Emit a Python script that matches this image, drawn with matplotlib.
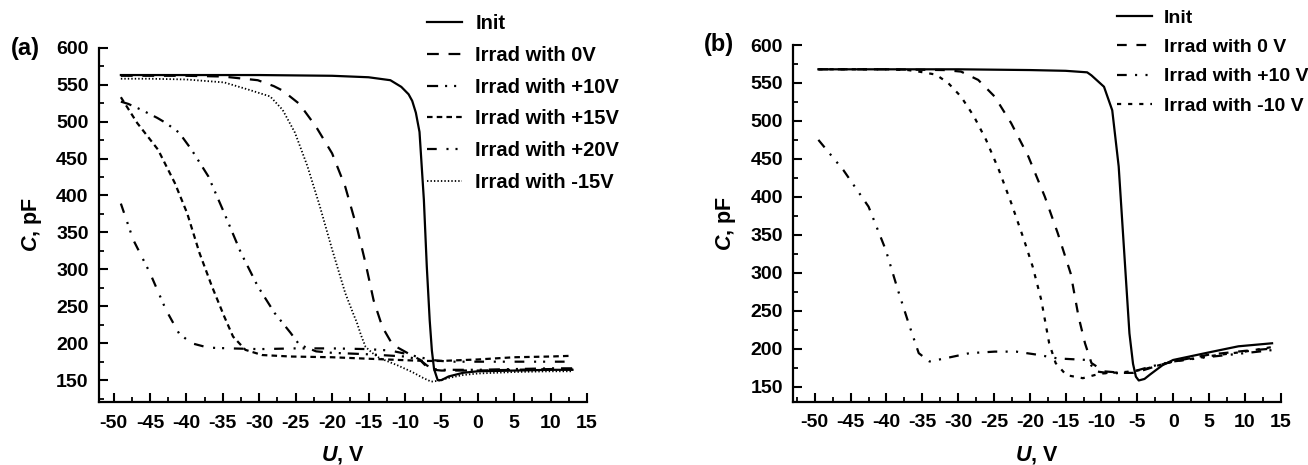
import matplotlib
matplotlib.use("Agg")
import matplotlib.pyplot as plt
from matplotlib.ticker import MultipleLocator

plt.rcParams['font.family'] = ['Liberation Sans', 'DejaVu Sans']
plt.rcParams['font.weight'] = 'bold'
plt.rcParams['mathtext.fontset'] = 'custom'
plt.rcParams['mathtext.bfit'] = 'Liberation Sans:italic:bold'
plt.rcParams['mathtext.rm'] = 'Liberation Sans:bold'
plt.rcParams['lines.scale_dashes'] = False
plt.rcParams['axes.unicode_minus'] = False

# ---- panel (a) data ----
a_init_x = [-49, -40, -30, -20, -15, -12, -10.5, -9.5, -9, -8.5, -8, -7.4, -7, -6.6, -6.3, -6, -5.5, -5, -4, -2, 0, 5, 10, 13]
a_init_y = [563, 563, 563, 562, 560, 556, 547, 537, 528, 512, 486, 394, 304, 231, 190, 165, 150, 150, 155, 160, 162, 163, 164, 164]

a_0v_x = [-49, -40, -35, -30.2, -28, -26.8, -24.5, -22.2, -20, -18.2, -16.5, -15.4, -14.3, -13.1, -11.7, -9.7, -8, -6.8, -6, -5, -3, 0, 5, 10, 13]
a_0v_y = [562, 562, 561, 556, 548, 542, 524, 493, 457, 412, 353, 308, 258, 222, 198, 187, 178, 166, 164, 163, 163, 163, 164, 165, 165]

a_p10_x = [-49, -48, -46.2, -44, -42.8, -41, -39.3, -37, -34.8, -32.5, -30.2, -27.9, -25.7, -24.5, -22.2, -20, -15, -10, -8, -7, -6, -5, 0, 5, 10, 13]
a_p10_y = [527, 524, 516, 505, 498, 485, 462, 426, 376, 322, 277, 241, 214, 198, 189, 187, 185, 182, 178, 170, 165, 164, 164, 165, 166, 166]

a_p15_x = [-49, -46.75, -43.9, -41.6, -39.9, -38.2, -36.5, -34.8, -33.6, -31.9, -29.6, -25.7, -20, -15, -10, -7, -5, 0, 5, 10, 13]
a_p15_y = [533, 498, 462, 417, 376, 322, 277, 236, 209, 191, 184, 182, 181, 179, 177, 176, 176, 178, 181, 182, 183]

a_p20_x = [-49, -47.3, -45, -42.8, -41, -39.3, -37, -34, -30, -25, -20, -15, -12, -10, -8, -6, -4, 0, 5, 10, 13]
a_p20_y = [389, 340, 295, 245, 213, 200, 194, 193, 192, 193, 193, 192, 190, 186, 181, 177, 175, 175, 175, 175, 175]

a_m15_x = [-49, -45, -40, -34.8, -31.4, -28.5, -26.8, -25.1, -23.4, -21.7, -20, -18.2, -17.1, -16.6, -16, -15.4, -14.5, -13.5, -11, -9, -7.5, -6.4, -5.5, -4, -2, 0, 5, 10, 13]
a_m15_y = [558, 558, 557, 553, 543, 534, 516, 485, 440, 386, 327, 268, 240, 228, 210, 195, 187, 180, 170, 161, 153, 148, 149, 153, 157, 159, 161, 162, 162]

# ---- panel (b) data ----
b_init_x = [-49.5, -40, -30, -20, -15, -12, -11.4, -9.65, -8.5, -7.6, -6.7, -6.1, -5.6, -5.2, -4.8, -4, -3.2, -1.5, 0, 2.5, 5, 9.1, 13.8]
b_init_y = [568, 568, 568, 567, 566, 564, 560, 545, 514, 440, 308, 220, 180, 163, 158, 160, 166, 178, 185, 190, 195, 203, 207]

b_0v_x = [-49.5, -40, -32, -29.6, -27.2, -24.9, -22.6, -20.2, -17.9, -16.1, -14.3, -13.2, -12.3, -11.4, -9.65, -7, -5.55, -4, -2, 0, 5, 10, 13.8]
b_0v_y = [568, 568, 567, 565, 554, 532, 497, 453, 400, 352, 299, 242, 207, 181, 170, 168, 168, 172, 178, 183, 192, 197, 200]

b_p10_x = [-49.5, -46, -42.5, -40.1, -38.4, -36.9, -35.5, -34, -31.9, -28.4, -24.9, -21.9, -19, -16.1, -12, -10.8, -8.5, -5.5, -4, -2, 0, 5, 10, 13.8]
b_p10_y = [475, 435, 387, 330, 277, 233, 194, 183, 187, 194, 196, 196, 192, 187, 185, 170, 167, 170, 174, 179, 183, 189, 194, 198]

b_m10_x = [-49.5, -40, -37, -35.5, -33.1, -31.4, -29.6, -27.8, -26.1, -24.3, -22.6, -20.8, -19.6, -18.4, -17.3, -16.4, -14.9, -12.6, -10.2, -7, -5.55, -4, -2, 0, 5, 10, 13.8]
b_m10_y = [568, 568, 567, 565, 561, 550, 532, 506, 475, 435, 392, 343, 308, 264, 207, 181, 165, 161, 167, 169, 170, 173, 178, 183, 190, 196, 202]

a_labels = ['Init', 'Irrad with 0V', 'Irrad with +10V', 'Irrad with +15V',
            'Irrad with +20V', 'Irrad with -15V']
b_labels = ['Init', 'Irrad with 0 V', 'Irrad with +10 V', 'Irrad with -10 V']

xticks = [-50, -45, -40, -35, -30, -25, -20, -15, -10, -5, 0, 5, 10, 15]
yticks = [150, 200, 250, 300, 350, 400, 450, 500, 550, 600]

fig = plt.figure(figsize=(13.08, 4.65), dpi=100)
ax1 = fig.add_axes([0.0757, 0.1348, 0.3731, 0.7626])
ax2 = fig.add_axes([0.6065, 0.1361, 0.3726, 0.7671])

lw = 1.6
ax1.plot(a_init_x, a_init_y, color='black', lw=lw, label=a_labels[0])
ax1.plot(a_0v_x, a_0v_y, color='black', lw=lw, dashes=(8.5, 7), label=a_labels[1])
ax1.plot(a_p10_x, a_p10_y, color='black', lw=lw, dashes=(8, 5, 1.5, 5, 1.5, 5), label=a_labels[2])
ax1.plot(a_p15_x, a_p15_y, color='black', lw=lw, dashes=(4, 3), label=a_labels[3])
ax1.plot(a_p20_x, a_p20_y, color='black', lw=lw, dashes=(7, 7, 1.5, 5, 1.5, 7), label=a_labels[4])
ax1.plot(a_m15_x, a_m15_y, color='black', lw=1.3, dashes=(1, 1.5), label=a_labels[5])

ax2.plot(b_init_x, b_init_y, color='black', lw=lw, label=b_labels[0])
ax2.plot(b_0v_x, b_0v_y, color='black', lw=lw, dashes=(7, 7), label=b_labels[1])
ax2.plot(b_p10_x, b_p10_y, color='black', lw=lw, dashes=(7, 6, 1.5, 6, 1.5, 6), label=b_labels[2])
ax2.plot(b_m10_x, b_m10_y, color='black', lw=lw, dashes=(3, 5), label=b_labels[3])

for ax, ylo, xlo in [(ax1, 120, -52), (ax2, 130, -53)]:
    ax.set_xlim(xlo, 15)
    ax.set_ylim(ylo, 600)
    ax.set_xticks(xticks)
    ax.set_yticks(yticks)
    ax.xaxis.set_minor_locator(MultipleLocator(2.5))
    ax.yaxis.set_minor_locator(MultipleLocator(25))
    ax.spines['top'].set_visible(False)
    ax.spines['right'].set_visible(False)
    for s in ['left', 'bottom']:
        ax.spines[s].set_linewidth(1.6)
    ax.tick_params(which='major', direction='in', length=6.5, width=1.5, labelsize=14)
    ax.tick_params(which='minor', direction='in', length=3.5, width=1.3)
    ax.tick_params(axis='x', which='major', pad=9)
    ax.tick_params(axis='y', which='major', pad=7.5)
    for lab in ax.get_xticklabels() + ax.get_yticklabels():
        lab.set_fontweight('bold')
    ax.set_xlabel(r'$\mathbfit{U}$, V', fontsize=15.5, fontweight='bold', labelpad=9)
    ax.set_ylabel(r'$\mathbfit{C}$, pF', fontsize=15.5, fontweight='bold', labelpad=9)

ax1.legend(loc='upper left', bbox_to_anchor=(0.3265, 0.969), bbox_transform=fig.transFigure,
           frameon=False, fontsize=14.5, handlelength=1.74, handletextpad=0.65,
           labelspacing=0.63, borderpad=0, borderaxespad=0)
ax2.legend(loc='upper left', bbox_to_anchor=(0.854, 0.98), bbox_transform=fig.transFigure,
           frameon=False, fontsize=14, handlelength=1.8, handletextpad=0.62,
           labelspacing=0.6, borderpad=0, borderaxespad=0)

fig.text(0.008, 1 - 49 / 465, '(a)', fontsize=17, fontweight='bold', va='center')
fig.text(0.538, 1 - 45 / 465, '(b)', fontsize=17, fontweight='bold', va='center')

fig.savefig('out.png', dpi=100)
